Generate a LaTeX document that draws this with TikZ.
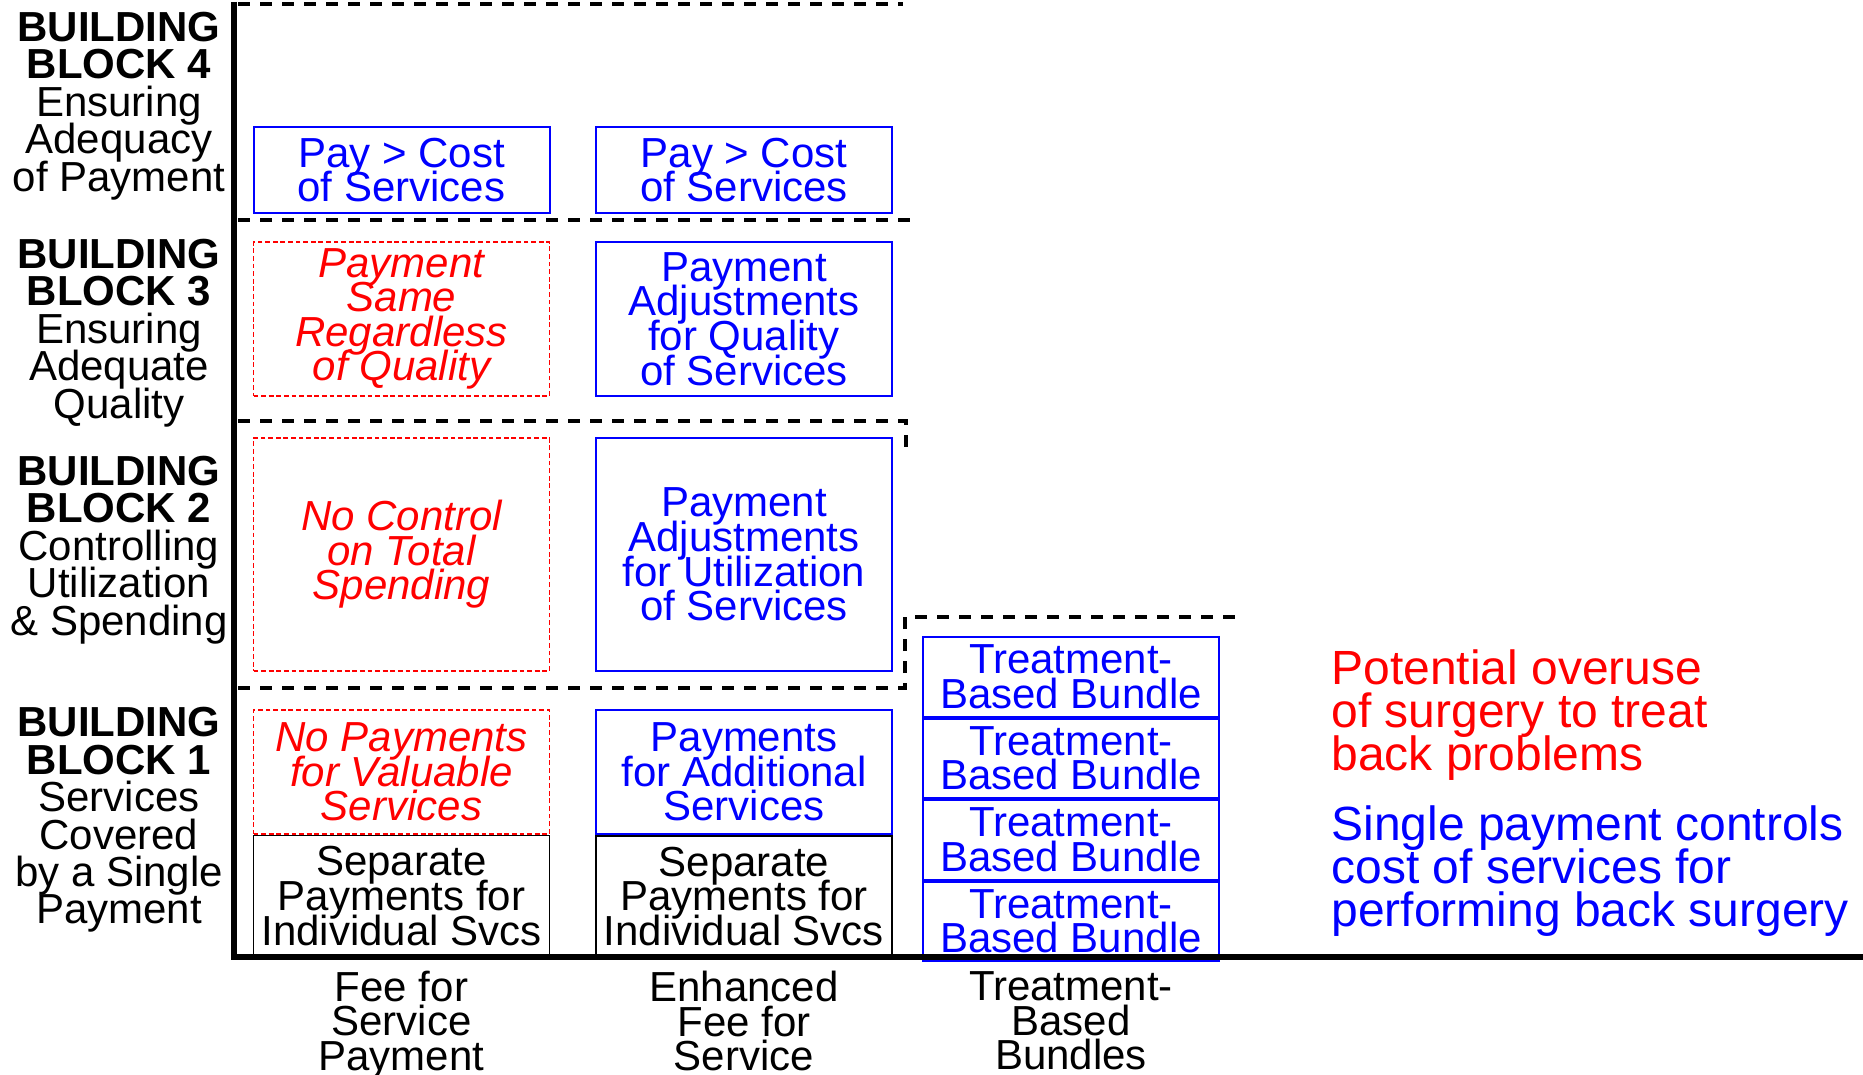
\documentclass[tikz,border=0pt]{standalone}
\usepackage{fontspec}
\setmainfont{Liberation Sans}
\usepackage{tikz}
\usetikzlibrary{positioning}
\lineskiplimit=-100pt

\begin{document}
\begin{tikzpicture}[
  x=0.5pt, y=-0.5pt,
  every node/.style={font=\fontsize{21}{17.3}\selectfont, align=center, inner sep=0pt},
  cell/.style={draw, line width=1pt, minimum width=148pt},
  bluecell/.style={cell, draw=blue, text=blue},
  redcell/.style={cell, draw=red, text=red, line width=0.8pt, dash pattern=on 2.4pt off 1.4pt, font=\fontsize{21}{17.3}\selectfont\itshape},
  blackcell/.style={cell, line width=0.8pt},
  bblabel/.style={font=\fontsize{21}{18.7}\selectfont},
  divider/.style={line width=2pt, dash pattern=on 6pt off 5pt},
  axis/.style={line width=2.8pt},
  note/.style={font=\fontsize{24}{21.5}\selectfont, align=left, anchor=west}
]
  \useasboundingbox (0,0) rectangle (1863,1075);

  % building block labels
  \node[bblabel] (bb4) at (119,106) {\textbf{BUILDING}\\\textbf{BLOCK 4}\\Ensuring\\Adequacy\\of Payment};
  \node[bblabel] (bb3) at (119,333) {\textbf{BUILDING}\\\textbf{BLOCK 3}\\Ensuring\\Adequate\\Quality};
  \node[bblabel] (bb2) at (119,550) {\textbf{BUILDING}\\\textbf{BLOCK 2}\\Controlling\\Utilization\\\& Spending};
  \node[bblabel] (bb1) at (119,820) {\textbf{BUILDING}\\\textbf{BLOCK 1}\\Services\\Covered\\by a Single\\Payment};

  % dividers between blocks
  \draw[divider] (238,4) -- (903,4);
  \draw[divider] (238,220) -- (915,220);
  \draw[divider] (238,421) -- (906,421) -- (906,455);
  \draw[divider] (238,688) -- (905,688) -- (905,617) -- (1235,617);

  % fee for service column
  \node[bluecell, minimum height=43pt] (pay1) at (401.5,170) {Pay > Cost\\of Services};
  \node[redcell, minimum height=77pt] (same) at (401.5,319) {Payment\\Same\\Regardless\\of Quality};
  \node[redcell, minimum height=116.5pt] (nocontrol) at (401.5,554.5) {No Control\\on Total\\Spending};
  \node[redcell, minimum height=62pt] (nopay) at (401.5,772) {No Payments\\for Valuable\\Services};
  \node[blackcell, minimum height=60.5pt, below=0pt of nopay] (separate1) {Separate\\Payments for\\Individual Svcs};

  % enhanced fee for service column
  \node[bluecell, minimum height=43pt] (pay2) at (744,170) {Pay > Cost\\of Services};
  \node[bluecell, minimum height=77pt] (quality) at (744,319) {Payment\\Adjustments\\for Quality\\of Services};
  \node[bluecell, minimum height=116.5pt] (utilization) at (744,554.5) {Payment\\Adjustments\\for Utilization\\of Services};
  \node[bluecell, minimum height=62pt] (additional) at (744,772) {Payments\\for Additional\\Services};
  \node[blackcell, minimum height=60.5pt, below=0pt of additional] (separate2) {Separate\\Payments for\\Individual Svcs};

  % treatment-based bundles column
  \node[bluecell, minimum height=39.75pt] (bundle1) at (1071,676.75) {Treatment-\\Based Bundle};
  \node[bluecell, minimum height=39.75pt, below=0pt of bundle1] (bundle2) {Treatment-\\Based Bundle};
  \node[bluecell, minimum height=39.75pt, below=0pt of bundle2] (bundle3) {Treatment-\\Based Bundle};
  \node[bluecell, minimum height=39.75pt, below=0pt of bundle3] (bundle4) {Treatment-\\Based Bundle};

  % axes
  \draw[axis] (234,2) -- (234,960);
  \draw[axis] (232,957) -- (1863,957);

  % column labels
  \node (ffs) at (401.5,1025) {Fee for\\Service\\Payment};
  \node (effs) at (744,1021) {Enhanced\\Fee for\\Service};
  \node (tbb) at (1071,1021) {Treatment-\\Based\\Bundles};

  % notes
  \node[note, text=red] (overuse) at (1331,715) {Potential overuse\\of surgery to treat\\back problems};
  \node[note, text=blue] (single) at (1331,871) {Single payment controls\\cost of services for\\performing back surgery};
\end{tikzpicture}
\end{document}
